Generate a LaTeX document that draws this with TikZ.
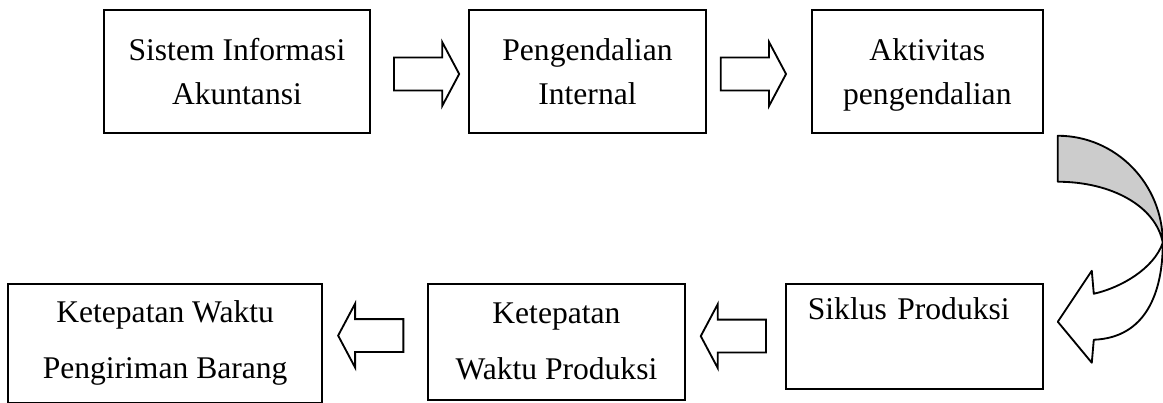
\documentclass[tikz,border=0pt]{standalone}
\usepackage{fontspec}
\setmainfont{Liberation Serif}
\usepackage{tikz}
\usetikzlibrary{shapes.arrows,positioning}

\begin{document}
\begin{tikzpicture}[
    box/.style={rectangle, draw, line width=0.7pt, align=center, inner sep=0pt, font=\fontsize{12pt}{16.7pt}\selectfont, minimum height=46.7pt},
    lowbox/.style={box, font=\fontsize{12pt}{21.3pt}\selectfont},
    blockarrow/.style={single arrow, draw, line width=0.7pt, minimum height=24.8pt, minimum width=1pt, inner xsep=0pt, inner ysep=5.9pt, single arrow head extend=5.9pt, single arrow tip angle=124}]

    \useasboundingbox (0,0) rectangle (441.94pt,-152.76pt);

    \node [box, minimum width=101.1pt, anchor=north west] (sia) at (39.14pt,-3.42pt) {Sistem Informasi\\Akuntansi};
    \node [box, minimum width=90.1pt, right=36.9pt of sia] (pi) {Pengendalian\\Internal};
    \node [box, minimum width=87.8pt, text depth=0pt, right=39.5pt of pi] (aktivitas) {Aktivitas\\pengendalian};
    \node [lowbox, minimum width=97.7pt, minimum height=39.9pt, below=56.6pt of aktivitas.south east, anchor=north east, text width=80.9pt, align=left] (siklus) {Siklus Produksi\\\phantom{x}};
    \node [lowbox, minimum width=97.7pt, minimum height=44.1pt, left=37.6pt of siklus.north west, anchor=north east] (kwp) {Ketepatan\\Waktu Produksi};
    \node [lowbox, minimum width=119.3pt, minimum height=45.2pt, left=39.5pt of kwp.north west, anchor=north east] (ksp) {Ketepatan Waktu\\Pengiriman Barang};

    % Arrows
    \node [blockarrow, anchor=tail] (a1) at ([xshift=8.4pt,yshift=-1pt]sia.east) {};
    \node [blockarrow, anchor=tail] (a2) at ([xshift=4.9pt,yshift=-1pt]pi.east) {};
    \node [blockarrow, shape border rotate=180, anchor=tail] (a4) at ([xshift=-6.8pt]siklus.west) {};
    \node [blockarrow, shape border rotate=180, anchor=tail] (a5) at ([xshift=-8.6pt,yshift=2.3pt]kwp.west) {};

    % curved arrow from aktivitas down to siklus
    \begin{scope}[shift={(aktivitas.south east)}, x=0.38pt, y=-0.38pt, line width=0.7pt, line join=round]
      \filldraw[fill=black!20] (14,2) .. controls (72,2) and (119,50) .. (119,109)
          .. controls (112,72) and (67,48) .. (14,48) -- cycle;
      \filldraw[fill=white] (119,109) .. controls (119,159) and (102,204) .. (50,206)
          -- (48,229) -- (14,188) -- (48,137) -- (50,160)
          .. controls (77,154) and (110,135) .. (119,109) -- cycle;
    \end{scope}
\end{tikzpicture}
\end{document}
